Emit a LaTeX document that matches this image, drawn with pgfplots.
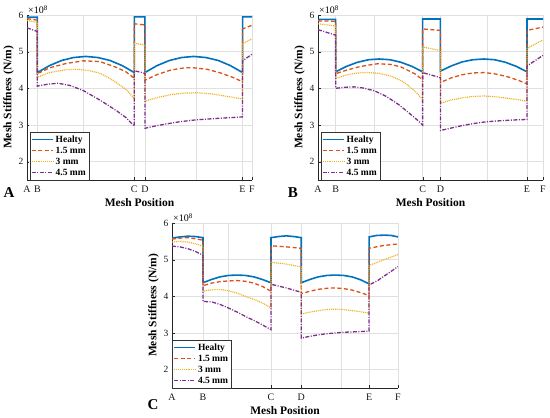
\documentclass[border=0pt]{standalone}
\usepackage{fontspec}
\setmainfont{Liberation Serif}
\usepackage{pgfplots}
\pgfplotsset{compat=1.18}
\definecolor{mblue}{rgb}{0,0.447,0.741}
\definecolor{morange}{rgb}{0.85,0.325,0.098}
\definecolor{myellow}{rgb}{0.929,0.694,0.125}
\definecolor{mpurple}{rgb}{0.494,0.184,0.556}
\pgfplotsset{
  legend image code/.code={\draw[#1] (0pt,0pt) -- (21pt,0pt);},
  myax/.style={
    scale only axis, width=225pt, height=165pt,
    xmin=0, xmax=1, ymin=1.5, ymax=6,
    ytick={2,3,4,5,6},
    clip mode=individual,
    grid=major, grid style={black!12, line width=0.5pt},
    axis lines*=left, axis line style={-, black!85, line width=0.5pt},
    tick align=inside, major tick length=2.5pt, tick style={black!85},
    tick label style={font=\fontsize{9.5}{10}\selectfont, text=black!90},
    xticklabel style={font=\fontsize{10}{11}\selectfont, yshift=-2.5pt},
    /pgf/number format/assume math mode=true,
    xlabel={Mesh Position}, ylabel={Mesh Stiffness (N/m)},
    label style={font=\fontsize{11.5}{12}\selectfont\bfseries},
    xlabel style={yshift=1pt},
    ylabel style={yshift=-2pt},
    extra x ticks={0.25,0.75}, extra x tick labels={},
    extra x tick style={grid=major, major tick length=0pt},
    legend style={at={(0.012,0.0)}, anchor=south west, draw=black!80, fill=white,
      font=\fontsize{9.5}{10}\selectfont\bfseries, inner sep=1.2pt, row sep=-0.8pt,
      cells={anchor=west}},
  },
}
\begin{document}
\begin{tikzpicture}
\path[use as bounding box] (0,0) rectangle (550pt,418pt);
% ---------------- Panel A ----------------
\begin{axis}[myax, at={(27pt,238pt)}, anchor=south west,
  xtick={0,0.046,0.477,0.524,0.958,1}, xticklabels={A,B,C,D,E,F}]
\addplot[color=mblue, line width=1.6pt, solid] coordinates {(0,5.94)(0.046,5.94)(0.046,4.43)(0.100,4.62)(0.154,4.76)(0.207,4.84)(0.261,4.87)(0.315,4.84)(0.369,4.76)(0.423,4.62)(0.477,4.43)(0.477,5.95)(0.524,5.95)(0.524,4.43)(0.578,4.62)(0.633,4.76)(0.687,4.84)(0.741,4.87)(0.795,4.84)(0.850,4.76)(0.904,4.62)(0.958,4.43)(0.958,5.95)(1,5.95)};
\addlegendentry{Healty}
\addplot[color=morange, line width=1.3pt, dash pattern=on 4pt off 2.5pt] coordinates {(0,5.90)(0.046,5.86)(0.046,4.40)(0.101,4.56)(0.175,4.68)(0.250,4.75)(0.324,4.73)(0.398,4.57)(0.440,4.45)(0.477,4.27)(0.477,5.76)(0.524,5.73)(0.524,4.22)(0.580,4.38)(0.640,4.50)(0.700,4.56)(0.740,4.56)(0.800,4.52)(0.860,4.42)(0.910,4.31)(0.958,4.18)(0.958,5.62)(1,5.72)};
\addlegendentry{1.5 mm}
\addplot[color=myellow, line width=1.2pt, dash pattern=on 1pt off 0.9pt] coordinates {(0,5.85)(0.046,5.80)(0.046,4.30)(0.100,4.43)(0.175,4.51)(0.220,4.52)(0.280,4.48)(0.324,4.41)(0.360,4.30)(0.398,4.15)(0.440,3.97)(0.477,3.72)(0.477,5.23)(0.524,5.18)(0.524,3.65)(0.580,3.75)(0.640,3.83)(0.700,3.87)(0.760,3.88)(0.820,3.85)(0.880,3.79)(0.958,3.71)(0.958,5.22)(1,5.35)};
\addlegendentry{3 mm}
\addplot[color=mpurple, line width=1.3pt, dash pattern=on 4pt off 1.5pt on 1pt off 1.5pt] coordinates {(0,5.65)(0.046,5.55)(0.046,4.06)(0.090,4.11)(0.138,4.14)(0.190,4.08)(0.250,3.94)(0.324,3.68)(0.398,3.39)(0.440,3.20)(0.477,2.97)(0.477,4.48)(0.524,4.41)(0.524,2.91)(0.560,2.96)(0.620,3.03)(0.680,3.09)(0.750,3.14)(0.820,3.17)(0.900,3.20)(0.958,3.22)(0.958,4.75)(1,4.93)};
\addlegendentry{4.5 mm}
\node[anchor=south west, inner sep=1pt, font=\fontsize{10}{11}\selectfont] at (rel axis cs:0,1) {×10\textsuperscript{8}};
\end{axis}
% ---------------- Panel B ----------------
\begin{axis}[myax, at={(318pt,238pt)}, anchor=south west,
  xtick={0,0.0785,0.465,0.544,0.929,1}, xticklabels={A,B,C,D,E,F}]
\addplot[color=mblue, line width=1.6pt, solid] coordinates {(0,5.88)(0.0785,5.88)(0.0785,4.45)(0.127,4.60)(0.175,4.71)(0.224,4.78)(0.272,4.80)(0.320,4.78)(0.369,4.71)(0.417,4.60)(0.465,4.45)(0.465,5.89)(0.544,5.89)(0.544,4.47)(0.592,4.61)(0.640,4.72)(0.688,4.78)(0.737,4.80)(0.785,4.78)(0.833,4.71)(0.881,4.60)(0.929,4.45)(0.929,5.89)(1,5.89)};
\addlegendentry{Healty}
\addplot[color=morange, line width=1.3pt, dash pattern=on 4pt off 2.5pt] coordinates {(0,5.84)(0.0785,5.83)(0.0785,4.40)(0.130,4.50)(0.178,4.58)(0.220,4.63)(0.265,4.67)(0.326,4.65)(0.370,4.58)(0.400,4.49)(0.435,4.38)(0.465,4.23)(0.465,5.62)(0.544,5.58)(0.544,4.16)(0.590,4.28)(0.640,4.37)(0.690,4.42)(0.740,4.43)(0.790,4.39)(0.840,4.32)(0.890,4.22)(0.929,4.12)(0.929,5.58)(1,5.67)};
\addlegendentry{1.5 mm}
\addplot[color=myellow, line width=1.2pt, dash pattern=on 1pt off 0.9pt] coordinates {(0,5.76)(0.0785,5.70)(0.0785,4.27)(0.130,4.37)(0.178,4.42)(0.220,4.43)(0.270,4.41)(0.326,4.33)(0.370,4.21)(0.400,4.08)(0.435,3.90)(0.465,3.70)(0.465,5.13)(0.544,5.03)(0.544,3.59)(0.590,3.68)(0.640,3.74)(0.690,3.78)(0.740,3.79)(0.790,3.77)(0.840,3.73)(0.890,3.69)(0.929,3.65)(0.929,5.09)(1,5.32)};
\addlegendentry{3 mm}
\addplot[color=mpurple, line width=1.3pt, dash pattern=on 4pt off 1.5pt on 1pt off 1.5pt] coordinates {(0,5.60)(0.0785,5.45)(0.0785,4.00)(0.120,4.03)(0.160,4.04)(0.200,4.01)(0.252,3.93)(0.300,3.79)(0.326,3.69)(0.360,3.55)(0.400,3.35)(0.435,3.17)(0.465,3.00)(0.465,4.43)(0.544,4.29)(0.544,2.85)(0.580,2.90)(0.630,2.97)(0.690,3.04)(0.750,3.09)(0.820,3.12)(0.880,3.14)(0.929,3.15)(0.929,4.61)(1,4.90)};
\addlegendentry{4.5 mm}
\node[anchor=south west, inner sep=1pt, font=\fontsize{10}{11}\selectfont] at (rel axis cs:0,1) {×10\textsuperscript{8}};
\end{axis}
% ---------------- Panel C ----------------
\begin{axis}[myax, at={(172pt,30pt)}, anchor=south west, width=226pt, legend style={at={(0,0)}},
  xtick={0,0.137,0.438,0.572,0.872,1}, xticklabels={A,B,C,D,E,F}]
\addplot[color=mblue, line width=1.6pt, solid] coordinates {(0,5.59)(0.035,5.62)(0.070,5.64)(0.105,5.63)(0.137,5.60)(0.137,4.37)(0.175,4.46)(0.212,4.53)(0.250,4.57)(0.288,4.58)(0.325,4.57)(0.363,4.53)(0.400,4.46)(0.438,4.37)(0.438,5.60)(0.470,5.63)(0.505,5.65)(0.540,5.63)(0.572,5.60)(0.572,4.37)(0.610,4.46)(0.647,4.53)(0.685,4.57)(0.722,4.58)(0.760,4.57)(0.797,4.53)(0.835,4.45)(0.872,4.34)(0.872,5.62)(0.905,5.66)(0.940,5.67)(0.970,5.66)(1,5.62)};
\addlegendentry{Healty}
\addplot[color=morange, line width=1.3pt, dash pattern=on 4pt off 2.5pt] coordinates {(0,5.56)(0.040,5.59)(0.070,5.60)(0.105,5.57)(0.137,5.53)(0.137,4.29)(0.175,4.36)(0.212,4.40)(0.250,4.42)(0.288,4.43)(0.325,4.41)(0.363,4.36)(0.400,4.27)(0.438,4.14)(0.438,5.38)(0.505,5.35)(0.572,5.31)(0.572,4.07)(0.610,4.14)(0.647,4.19)(0.685,4.22)(0.722,4.23)(0.760,4.21)(0.797,4.17)(0.835,4.10)(0.872,4.02)(0.872,5.31)(0.930,5.38)(1,5.43)};
\addlegendentry{1.5 mm}
\addplot[color=myellow, line width=1.2pt, dash pattern=on 1pt off 0.9pt] coordinates {(0,5.48)(0.035,5.50)(0.070,5.48)(0.105,5.43)(0.137,5.37)(0.137,4.14)(0.175,4.18)(0.212,4.19)(0.250,4.15)(0.288,4.09)(0.332,3.98)(0.370,3.90)(0.406,3.80)(0.438,3.68)(0.438,4.93)(0.505,4.88)(0.572,4.80)(0.572,3.52)(0.610,3.57)(0.647,3.61)(0.685,3.64)(0.722,3.65)(0.760,3.64)(0.797,3.61)(0.835,3.58)(0.872,3.54)(0.872,4.84)(0.930,4.98)(1,5.14)};
\addlegendentry{3 mm}
\addplot[color=mpurple, line width=1.3pt, dash pattern=on 4pt off 1.5pt on 1pt off 1.5pt] coordinates {(0,5.37)(0.035,5.35)(0.070,5.30)(0.105,5.22)(0.137,5.12)(0.137,3.86)(0.175,3.85)(0.212,3.78)(0.258,3.66)(0.295,3.55)(0.332,3.43)(0.370,3.32)(0.406,3.20)(0.438,3.09)(0.438,4.33)(0.505,4.23)(0.572,4.11)(0.572,2.86)(0.610,2.91)(0.647,2.95)(0.685,2.98)(0.722,3.00)(0.760,3.02)(0.800,3.03)(0.835,3.04)(0.872,3.05)(0.872,4.31)(0.910,4.43)(0.950,4.60)(1,4.81)};
\addlegendentry{4.5 mm}
\node[anchor=south west, inner sep=1pt, font=\fontsize{10}{11}\selectfont] at (rel axis cs:0,1) {×10\textsuperscript{8}};
\end{axis}
% panel letters
\node[font=\fontsize{15}{16}\selectfont\bfseries] at (9pt,225pt) {A};
\node[font=\fontsize{15}{16}\selectfont\bfseries] at (293pt,225pt) {B};
\node[font=\fontsize{15}{16}\selectfont\bfseries] at (153pt,13pt) {C};
\end{tikzpicture}
\end{document}
